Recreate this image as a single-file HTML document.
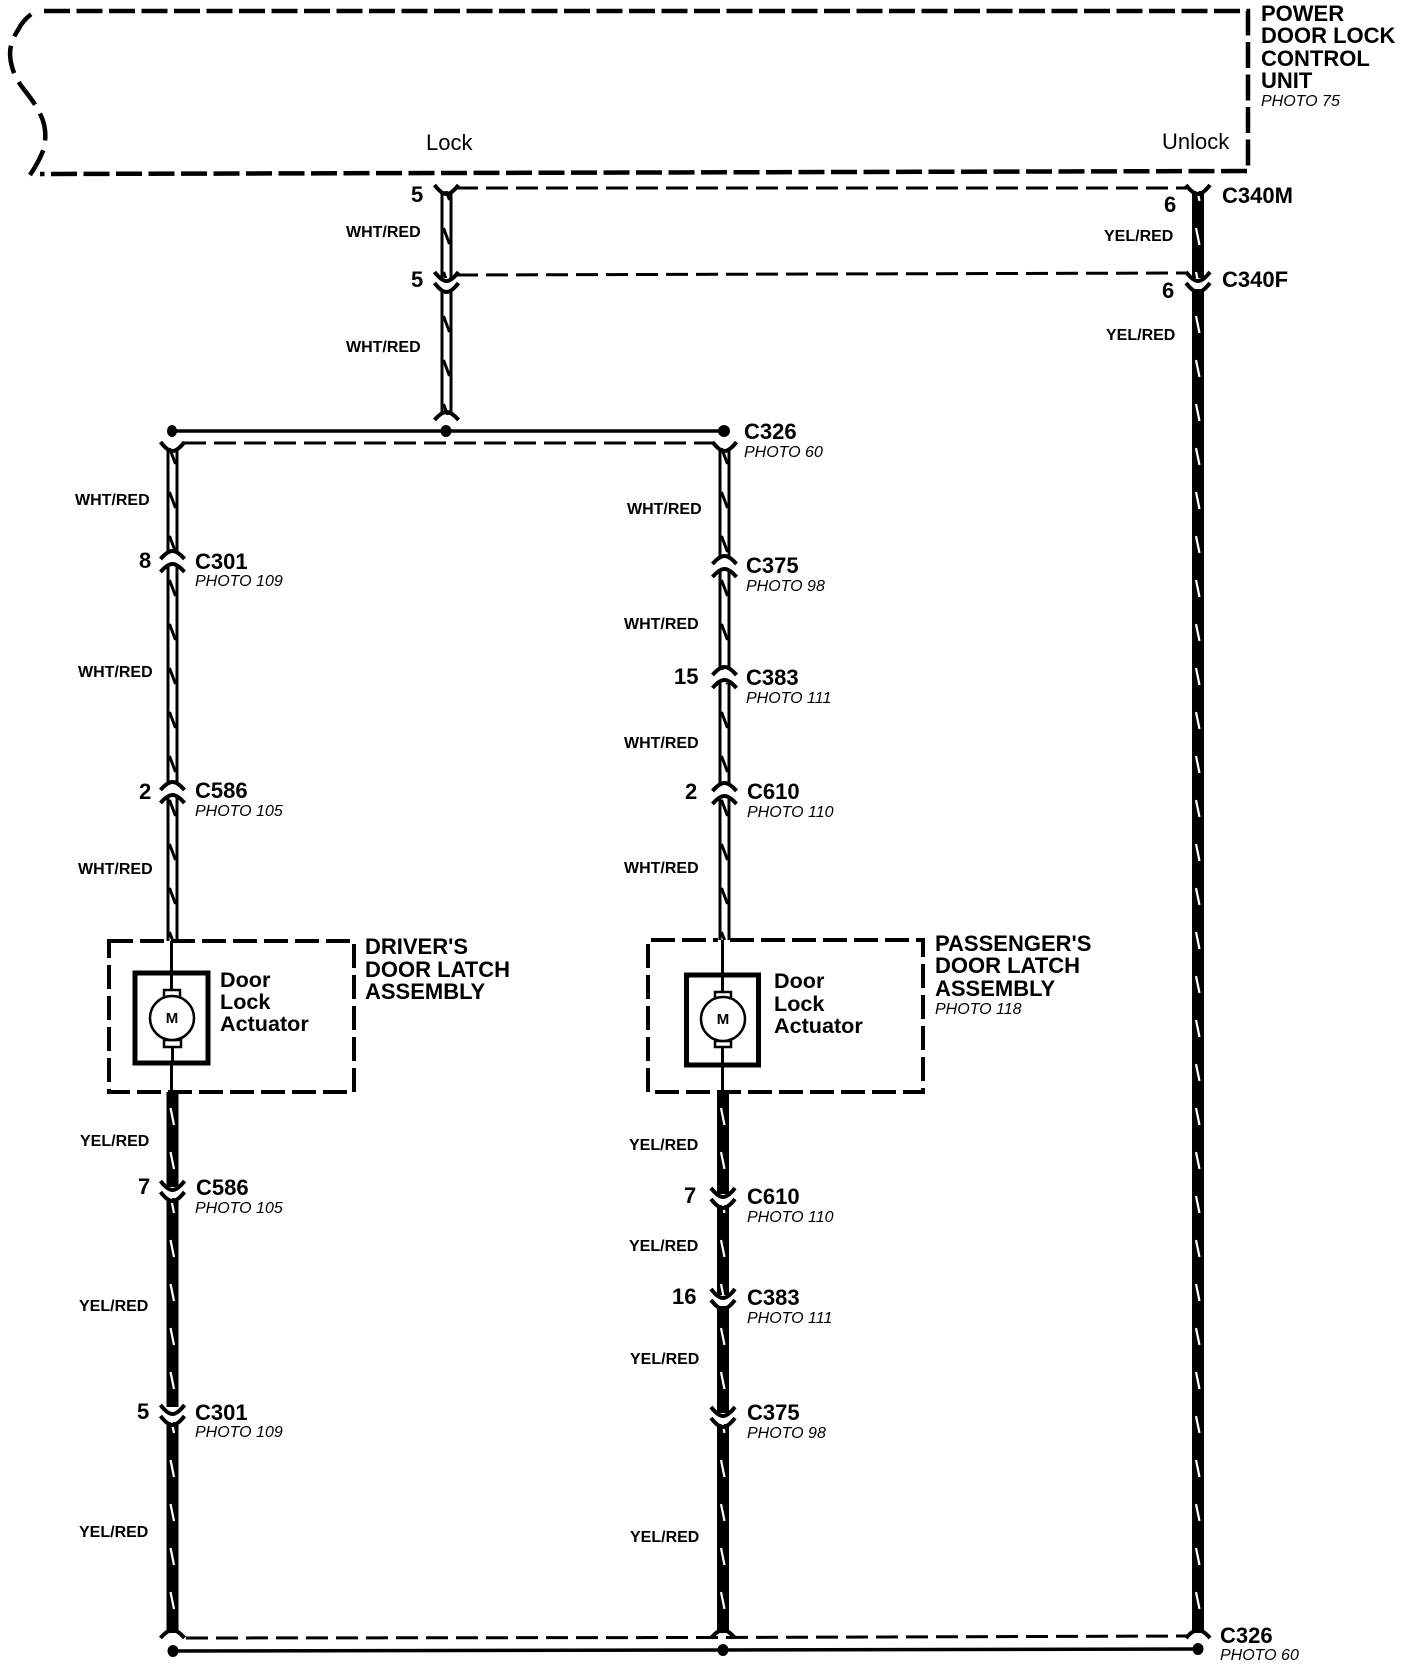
<!DOCTYPE html>
<html><head><meta charset="utf-8"><style>
html,body{margin:0;padding:0;background:#fff}
svg{display:block}
text{font-family:"Liberation Sans",sans-serif;fill:#000}
.b{font-weight:bold;font-size:22px}
.d{font-weight:bold;font-size:21.6px}
.c{font-weight:bold;font-size:16px}
.p{font-style:italic;font-size:16px}
.r{font-size:22px}
.m{font-weight:bold;font-size:15px;text-anchor:middle}
</style></head><body>
<svg xmlns="http://www.w3.org/2000/svg" width="1408" height="1666" viewBox="0 0 1408 1666">
<defs>
<pattern id="dbl" x="-6" y="0" width="12" height="44" patternUnits="userSpaceOnUse">
<rect x="0" width="12" height="44" fill="#fff"/>
<rect x="0" width="3" height="44" fill="#000"/><rect x="9" width="3" height="44" fill="#000"/>
<path d="M3 8 L9 24" stroke="#000" stroke-width="3" fill="none"/>
</pattern>
<pattern id="sol" x="-6" y="0" width="12" height="44" patternUnits="userSpaceOnUse">
<rect x="0" width="12" height="44" fill="#000"/>
<path d="M4 8 L7.5 25" stroke="#fff" stroke-width="2.2" fill="none"/>
</pattern>
<path id="u" d="M-12 -6 Q-5 3 0 3 Q5 3 12 -6" fill="none" stroke="#000" stroke-width="4"/>
<path id="n" d="M-12 5 Q-5 -3 0 -3 Q5 -3 12 5" fill="none" stroke="#000" stroke-width="4"/>
</defs>

<!-- control unit -->
<g fill="none" stroke="#000" stroke-width="4.5">
<path d="M44 11 L1248 11 L1248 171 L40 174" stroke-dasharray="26 6.5"/>
<path d="M30 175 Q40 160 44 148 C47 132 45 122 38 110 C30 94 18 86 13 70 C8 55 9 44 18 30 Q24 18 36 11" stroke-dasharray="28 10"/>
</g>
<text class="r" x="426" y="150">Lock</text>
<text class="r" x="1162" y="149">Unlock</text>
<text class="b" x="1261" y="21">POWER</text>
<text class="b" x="1261" y="43">DOOR LOCK</text>
<text class="b" x="1261" y="66">CONTROL</text>
<text class="b" x="1261" y="88">UNIT</text>
<text class="p" x="1261" y="106">PHOTO 75</text>

<!-- top dashed -->
<g fill="none" stroke="#000" stroke-width="3" stroke-dasharray="22 8">
<path d="M456 188 L1188 188"/>
<path d="M456 275 L1188 273"/>
<path d="M184 443 L714 443"/>
<path d="M186 1638 L712 1637.5 L1188 1636"/>
</g>
<!-- bus solid -->
<g stroke="#000" stroke-width="3.5" fill="#000">
<path d="M172 431 L724 431" fill="none"/>
<path d="M172 1651 L723 1650 L1198 1649" fill="none"/>
<ellipse cx="172" cy="431" rx="5" ry="6" stroke="none"/>
<ellipse cx="446" cy="431" rx="5.5" ry="6" stroke="none"/>
<ellipse cx="724" cy="431" rx="6" ry="6" stroke="none"/>
<ellipse cx="173" cy="1651" rx="5.5" ry="6" stroke="none"/>
<ellipse cx="723" cy="1650" rx="5.5" ry="6" stroke="none"/>
<ellipse cx="1198" cy="1649" rx="5.5" ry="6" stroke="none"/>
</g>

<!-- wire top double -->
<g transform="translate(446.5,0)">
<rect x="-6" y="191" width="12" height="87" fill="url(#dbl)"/>
<rect x="-6" y="289" width="12" height="126" fill="url(#dbl)"/>
<use href="#u" y="191"/><use href="#u" y="278"/><use href="#u" y="289"/><use href="#n" y="415"/>
</g>
<!-- right solid -->
<g transform="translate(1198,0)">
<rect x="-6" y="191" width="12" height="87" fill="url(#sol)"/>
<rect x="-6" y="289" width="12" height="1344" fill="url(#sol)"/>
<use href="#u" y="191"/><use href="#u" y="278"/><use href="#u" y="289"/><use href="#n" y="1633"/>
</g>
<!-- left column -->
<g transform="translate(172.5,0)">
<rect x="-6" y="448" width="12" height="104" fill="url(#dbl)"/>
<rect x="-6" y="565" width="12" height="218" fill="url(#dbl)"/>
<rect x="-6" y="796" width="12" height="145" fill="url(#dbl)"/>
<use href="#u" y="448"/>
<use href="#n" y="554"/><use href="#n" y="567"/>
<use href="#n" y="785"/><use href="#n" y="798"/>
<rect x="-6" y="1092" width="12" height="95" fill="url(#sol)"/>
<rect x="-6" y="1198" width="12" height="209" fill="url(#sol)"/>
<rect x="-6" y="1422" width="12" height="211" fill="url(#sol)"/>
<use href="#u" y="1187"/><use href="#u" y="1198"/>
<use href="#u" y="1411"/><use href="#u" y="1422"/>
<use href="#n" y="1633"/>
</g>
<!-- middle column -->
<g transform="translate(724.5,0)">
<rect x="-6" y="448" width="12" height="110" fill="url(#dbl)"/>
<rect x="-6" y="572" width="12" height="98" fill="url(#dbl)"/>
<rect x="-6" y="683" width="12" height="103" fill="url(#dbl)"/>
<rect x="-6" y="799" width="12" height="141" fill="url(#dbl)"/>
<use href="#u" y="448"/>
<use href="#n" y="559"/><use href="#n" y="572"/>
<use href="#n" y="670"/><use href="#n" y="683"/>
<use href="#n" y="786"/><use href="#n" y="799"/>
</g>
<g transform="translate(723,0)">
<rect x="-6" y="1092" width="12" height="102" fill="url(#sol)"/>
<rect x="-6" y="1205" width="12" height="90" fill="url(#sol)"/>
<rect x="-6" y="1306" width="12" height="107" fill="url(#sol)"/>
<rect x="-6" y="1424" width="12" height="209" fill="url(#sol)"/>
<use href="#u" y="1194"/><use href="#u" y="1205"/>
<use href="#u" y="1295"/><use href="#u" y="1306"/>
<use href="#u" y="1413"/><use href="#u" y="1424"/>
<use href="#n" y="1633"/>
</g>

<!-- driver box -->
<g fill="none" stroke="#000">
<path d="M109 941 L354 941 L354 1092 L109 1092 Z" stroke-width="4" stroke-dasharray="24 7"/>
<path d="M171.5 941 L171.5 1092" stroke-width="3"/>
<rect x="135" y="973" width="73" height="90" stroke-width="5" fill="#fff"/>
<path d="M171.5 973 L171.5 990 M172.5 1046 L172.5 1063" stroke-width="3"/>
<rect x="164" y="990" width="16" height="8" stroke-width="2.5" fill="#fff"/>
<rect x="164" y="1040" width="17" height="7" stroke-width="2.5" fill="#fff"/>
<circle cx="172" cy="1018" r="22" stroke-width="2.5" fill="#fff"/>
</g>
<text class="m" x="172" y="1023">M</text>
<text class="d" x="220" y="987">Door</text>
<text class="d" x="220" y="1009">Lock</text>
<text class="d" x="220" y="1031">Actuator</text>
<text class="b" x="365" y="954">DRIVER'S</text>
<text class="b" x="365" y="977">DOOR LATCH</text>
<text class="b" x="365" y="999">ASSEMBLY</text>

<!-- passenger box -->
<g fill="none" stroke="#000">
<path d="M730 940 L923 940 L923 1092 L648 1092 L648 940 L718 940" stroke-width="4" stroke-dasharray="24 7"/>
<path d="M722.5 940 L722.5 1092" stroke-width="3"/>
<rect x="686.5" y="975" width="72" height="90" stroke-width="5" fill="#fff"/>
<path d="M722.5 975 L722.5 992 M722.5 1047 L722.5 1065" stroke-width="3"/>
<rect x="715" y="992" width="16" height="7" stroke-width="2.5" fill="#fff"/>
<rect x="715" y="1041" width="16" height="6" stroke-width="2.5" fill="#fff"/>
<circle cx="723" cy="1019" r="22" stroke-width="2.5" fill="#fff"/>
</g>
<text class="m" x="723" y="1024">M</text>
<text class="d" x="774" y="988">Door</text>
<text class="d" x="774" y="1011">Lock</text>
<text class="d" x="774" y="1033">Actuator</text>
<text class="b" x="935" y="951">PASSENGER'S</text>
<text class="b" x="935" y="973">DOOR LATCH</text>
<text class="b" x="935" y="996">ASSEMBLY</text>
<text class="p" x="935" y="1014">PHOTO 118</text>

<!-- top wire labels -->
<text class="b" x="411" y="202">5</text>
<text class="c" x="346" y="237">WHT/RED</text>
<text class="b" x="411" y="287">5</text>
<text class="c" x="346" y="352">WHT/RED</text>
<!-- right labels -->
<text class="b" x="1222" y="203">C340M</text>
<text class="b" x="1222" y="287">C340F</text>
<text class="b" x="1164" y="212">6</text>
<text class="b" x="1162" y="298">6</text>
<text class="c" x="1104" y="241">YEL/RED</text>
<text class="c" x="1106" y="340">YEL/RED</text>
<text class="b" x="1220" y="1643">C326</text>
<text class="p" x="1220" y="1660">PHOTO 60</text>

<!-- left labels -->
<text class="c" x="75" y="505">WHT/RED</text>
<text class="b" x="139" y="568">8</text>
<text class="b" x="195" y="569">C301</text>
<text class="p" x="195" y="586">PHOTO 109</text>
<text class="c" x="78" y="677">WHT/RED</text>
<text class="b" x="139" y="799">2</text>
<text class="b" x="195" y="798">C586</text>
<text class="p" x="195" y="816">PHOTO 105</text>
<text class="c" x="78" y="874">WHT/RED</text>
<text class="c" x="80" y="1146">YEL/RED</text>
<text class="b" x="138" y="1194">7</text>
<text class="b" x="196" y="1195">C586</text>
<text class="p" x="195" y="1213">PHOTO 105</text>
<text class="c" x="79" y="1311">YEL/RED</text>
<text class="b" x="137" y="1419">5</text>
<text class="b" x="195" y="1420">C301</text>
<text class="p" x="195" y="1437">PHOTO 109</text>
<text class="c" x="79" y="1537">YEL/RED</text>

<!-- middle labels -->
<text class="b" x="744" y="439">C326</text>
<text class="p" x="744" y="457">PHOTO 60</text>
<text class="c" x="627" y="514">WHT/RED</text>
<text class="b" x="746" y="573">C375</text>
<text class="p" x="746" y="591">PHOTO 98</text>
<text class="c" x="624" y="629">WHT/RED</text>
<text class="b" x="674" y="684">15</text>
<text class="b" x="746" y="685">C383</text>
<text class="p" x="746" y="703">PHOTO 111</text>
<text class="c" x="624" y="748">WHT/RED</text>
<text class="b" x="685" y="799">2</text>
<text class="b" x="747" y="799">C610</text>
<text class="p" x="747" y="817">PHOTO 110</text>
<text class="c" x="624" y="873">WHT/RED</text>
<text class="c" x="629" y="1150">YEL/RED</text>
<text class="b" x="684" y="1203">7</text>
<text class="b" x="747" y="1204">C610</text>
<text class="p" x="747" y="1222">PHOTO 110</text>
<text class="c" x="629" y="1251">YEL/RED</text>
<text class="b" x="672" y="1304">16</text>
<text class="b" x="747" y="1305">C383</text>
<text class="p" x="747" y="1323">PHOTO 111</text>
<text class="c" x="630" y="1364">YEL/RED</text>
<text class="b" x="747" y="1420">C375</text>
<text class="p" x="747" y="1438">PHOTO 98</text>
<text class="c" x="630" y="1542">YEL/RED</text>
</svg>
</body></html>
